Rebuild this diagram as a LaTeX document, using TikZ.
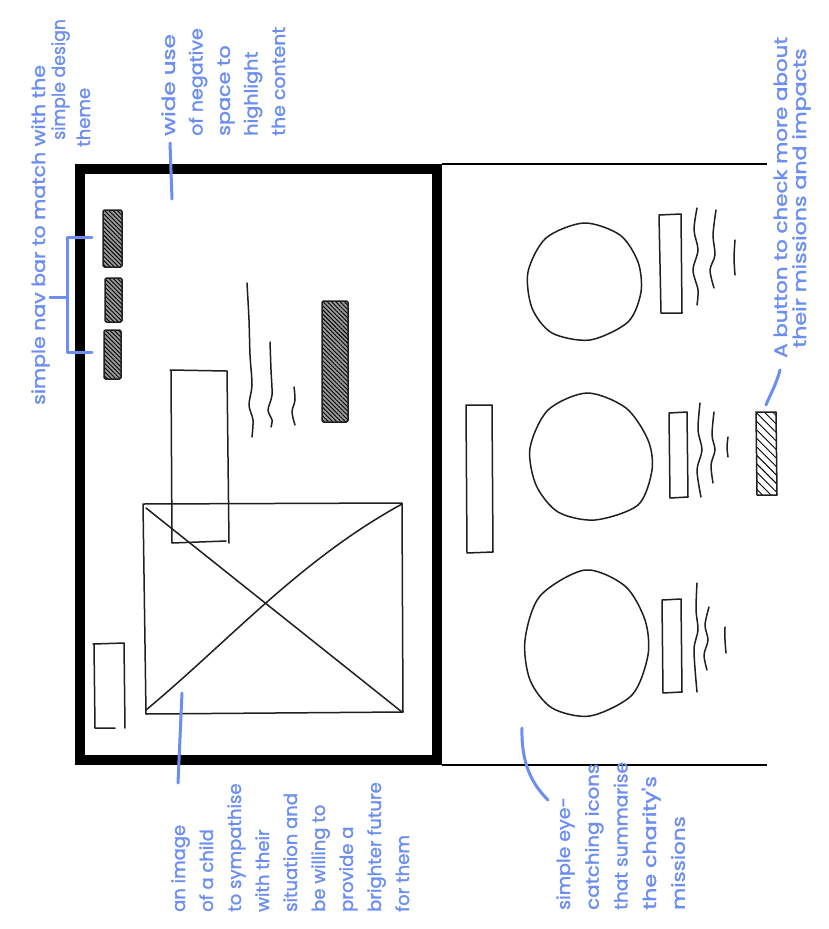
\documentclass[tikz,border=0pt]{standalone}
\usepackage{graphicx}
\usepackage{fontspec}
\setmainfont{Poppins}
\newfontfamily\notefont[FakeBold=1.4]{Poppins}
\usetikzlibrary{patterns.meta}
\definecolor{notecol}{RGB}{108,142,242}
\newcommand{\sx}[2]{\scalebox{#1}[1]{#2}}
\begin{document}
\begin{tikzpicture}[x=1pt,y=-1pt,
  sketch/.style={draw=black!88,line width=1.5pt,line join=round,line cap=round},
  hatchdark/.style={sketch,rounded corners=1.5pt,preaction={fill=black!40},
      pattern={Lines[angle=-45,distance=3pt,line width=0.9pt]}},
  hatchlight/.style={sketch,pattern={Lines[angle=-45,distance=6pt,line width=0.9pt]}},
  frame/.style={draw=black,line width=10pt},
  page/.style={draw=black,line width=2pt},
  pointer/.style={draw=notecol,line width=3pt,line cap=round,line join=round},
  note/.style={rotate=90,anchor=base west,inner sep=0pt,text=notecol,font=\notefont\fontsize{18}{27}\selectfont}]
\useasboundingbox (0,0) rectangle (828,929);
\fill[white] (0,0) rectangle (828,929);

% ---------- first screen (thick frame) ----------
\draw[frame] (80,169) rectangle (437,760);
% nav bar items
\draw[hatchdark] (103,210) rectangle (122,267);
\draw[hatchdark] (105,278) rectangle (122,322);
\draw[hatchdark] (104,330) rectangle (121,379);
% big button
\draw[hatchdark] (322,301) rectangle (348,422);
% text lines
\draw[sketch] plot[smooth] coordinates {(247,283) (249,320) (250,355) (252,385) (249,405) (253,420) (252,437)};
\draw[sketch] plot[smooth] coordinates {(270,342) (271,370) (272,395) (268,410) (272,420) (271,427)};
\draw[sketch] plot[smooth] coordinates {(294,387) (295,400) (292,412) (295,425)};
% heading box
\draw[sketch] (170,370) -- (227,371) -- (229,543);
\draw[sketch] (171,371) -- (172,543) -- (226,541);
% image placeholder
\draw[sketch] (143,504) -- (402,503) -- (403,712) -- (146,714) -- cycle;
\draw[sketch] (146,508) -- (402,712);
\draw[sketch] (402,504) .. controls (300,560) and (230,640) .. (146,710);
% logo / small box
\draw[sketch] (93,644) -- (124,643) -- (125,728);
\draw[sketch] (94,644) -- (95,728) -- (115,728);

% ---------- second screen ----------
\draw[page] (442,164) -- (767,164);
\draw[page] (442,765) -- (767,765);
\draw[sketch] (466,405) -- (492,405) -- (493,552) -- (467,553) -- cycle;
% icons
\draw[sketch] plot[smooth cycle] coordinates {(584,223) (620,235) (638,262) (641,292) (628,322) (590,340) (552,333) (532,308) (528,272) (546,238)};
\draw[sketch] plot[smooth cycle] coordinates {(587,393) (626,408) (648,440) (652,470) (638,505) (595,520) (558,512) (536,485) (530,448) (548,410)};
\draw[sketch] plot[smooth cycle] coordinates {(585,570) (625,586) (645,620) (648,655) (632,695) (590,716) (552,708) (530,680) (525,640) (540,596)};
% icon captions boxes
\draw[sketch] (659,215) -- (681,214) -- (682,313) -- (661,313) -- cycle;
\draw[sketch] (669,413) -- (687,412) -- (688,497) -- (670,498) -- cycle;
\draw[sketch] (662,600) -- (681,599) -- (682,692) -- (663,693) -- cycle;
% caption lines
\draw[sketch] plot[smooth] coordinates {(697,208) (694,230) (698,250) (693,270) (698,290) (697,305)};
\draw[sketch] plot[smooth] coordinates {(716,210) (713,235) (715,255) (710,270) (714,288)};
\draw[sketch] plot[smooth] coordinates {(735,240) (734,258) (735,275)};
\draw[sketch] plot[smooth] coordinates {(700,403) (698,430) (702,450) (697,470) (701,497)};
\draw[sketch] plot[smooth] coordinates {(714,412) (712,435) (715,450) (711,465) (713,483)};
\draw[sketch] plot[smooth] coordinates {(728,437) (727,447) (728,457)};
\draw[sketch] plot[smooth] coordinates {(697,583) (696,610) (698,630) (694,650) (697,692)};
\draw[sketch] plot[smooth] coordinates {(709,607) (705,625) (708,640) (704,655) (707,670)};
\draw[sketch] plot[smooth] coordinates {(725,627) (725,640) (726,653)};
% more button
\draw[hatchlight] (756,412) -- (776,412) -- (777,495) -- (757,495) -- cycle;

% ---------- annotations ----------
\node[note] (navA) at (45,405) {\sx{1.14}{simple nav bar to match with the}};
\node[note] (navB) at (65,140) {\sx{0.96}{simple design}};
\node[note] (navC) at (90,147) {theme};
\draw[pointer] (92,237) -- (67,237) -- (67,352) -- (92,352);
\draw[pointer] (50,297) -- (67,297);

\foreach \t/\f [count=\i] in {wide use/1.28,of negative/1.06,space to/1.15,highlight/1.07,the content/1.05}
  \node[note] (neg\i) at ({175+27.5*(\i-1)},136) {\sx{\f}{\t}};
\coordinate (negstart) at (170,143);
\coordinate (negtip) at (172,199);
\draw[pointer] (negstart) -- (negtip);

\foreach \t [count=\i] in {an image,of a child,to sympathise,with their,situation and,be willing to,provide a,brighter future,for them}
  \node[note] (img\i) at ({185+28*(\i-1)},912) {\t};
\coordinate (imgtip) at (182,693);
\coordinate (imgend) at (178,783);
\draw[pointer] (imgtip) -- (imgend);

\foreach \t/\f [count=\i] in {simple eye-/1.05,catching icons/1.10,that summarise/1.03,the charity's/1.23,missions/1.19}
  \node[note] (icon\i) at ({570+28.7*(\i-1)},910) {\sx{\f}{\t}};
\coordinate (icontip) at (522,728);
\coordinate (iconend) at (548,800);
\draw[pointer] (icontip) .. controls (521,765) and (533,785) .. (iconend);

\node[note] (btnA) at (787,358) {\sx{1.19}{A button to check more about}};
\node[note] (btnB) at (806,348) {\sx{1.23}{their missions and impacts}};
\coordinate (btntip) at (766,405);
\coordinate (btnend) at (780,370);
\draw[pointer] (btnend) .. controls (776,385) and (770,395) .. (btntip);
\end{tikzpicture}
\end{document}
